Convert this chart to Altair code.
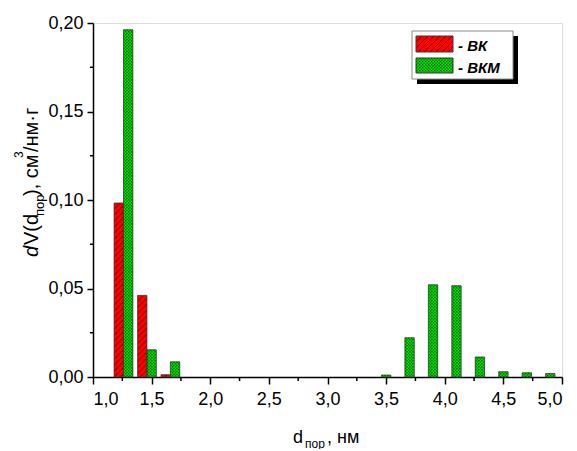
import base64
import altair as alt
import pandas as pd

# ---- data ----
series = ["ВК", "ВКМ"]
d_bk = [1.26, 1.46, 1.66]
v_bk = [0.0983, 0.0461, 0.0013]
d_bkm = [1.26, 1.46, 1.66, 3.46, 3.66, 3.86, 4.06, 4.26, 4.46, 4.66, 4.86]
v_bkm = [0.1962, 0.0154, 0.0086, 0.0011, 0.0222, 0.0521, 0.0516, 0.0113, 0.0030, 0.0024, 0.0020]
x_major = [1.0, 1.5, 2.0, 2.5, 3.0, 3.5, 4.0, 4.5, 5.0]
x_minor = [1.25, 1.75, 2.25, 2.75, 3.25, 3.75, 4.25, 4.75]
y_major = [0.0, 0.05, 0.10, 0.15, 0.20]
y_minor = [0.025, 0.075, 0.125, 0.175]
colors = ["#f01010", "#10c810"]

W, H = 469, 354
BARW = 0.08
FONT = "Liberation Sans"

# pattern textures (hatch for ВК, checker for ВКМ), tiled at pixel scale
HATCH_SVG = (
    '<svg xmlns="http://www.w3.org/2000/svg" width="100%" height="100%">'
    '<defs><pattern id="p" width="6" height="6" patternUnits="userSpaceOnUse">'
    '<rect width="6" height="6" fill="#ff0000"/>'
    '<path d="M0,6 L6,0 M-1,1 L1,-1 M5,7 L7,5" stroke="#700000" stroke-width="0.9"/>'
    '</pattern></defs><rect width="100%" height="100%" fill="url(#p)"/></svg>'
)
CHECK_SVG = (
    '<svg xmlns="http://www.w3.org/2000/svg" width="100%" height="100%">'
    '<defs><pattern id="p" width="3" height="3" patternUnits="userSpaceOnUse">'
    '<rect width="3" height="3" fill="#00e400"/>'
    '<rect x="0" y="0" width="1.2" height="1.2" fill="#003000"/>'
    '<rect x="1.5" y="1.5" width="1.2" height="1.2" fill="#004a00"/>'
    '</pattern></defs><rect width="100%" height="100%" fill="url(#p)"/></svg>'
)


def data_url(svg):
    return "data:image/svg+xml;base64," + base64.b64encode(svg.encode("utf-8")).decode("ascii")


textures = [data_url(HATCH_SVG), data_url(CHECK_SVG)]

df = pd.DataFrame({
    "s": [series[0]] * len(d_bk) + [series[1]] * len(d_bkm),
    "d": d_bk + d_bkm,
    "v": v_bk + v_bkm,
})

xs = alt.Scale(domain=[1, 5], nice=False, zero=False)
ys = alt.Scale(domain=[0, 0.2], nice=False)

xaxis = alt.Axis(
    values=x_major, title=None, grid=False, tickSize=7, tickWidth=1.5,
    domainWidth=1.5, domainColor="black", tickColor="black",
    labelFontSize=18, labelFont=FONT, labelColor="black", labelPadding=6,
    labelExpr="replace(format(datum.value, '.1f'), '.', ',')")
yaxis = alt.Axis(
    values=y_major, title=None, grid=False, tickSize=6, tickWidth=1.5,
    domainWidth=1.5, domainColor="black", tickColor="black",
    labelFontSize=18, labelFont=FONT, labelColor="black", labelPadding=4,
    labelExpr="replace(format(datum.value, '.2f'), '.', ',')")

base = alt.Chart(df).transform_calculate(
    x0=f"datum.s == '{series[0]}' ? datum.d - {BARW} : datum.d",
    x1=f"datum.s == '{series[0]}' ? datum.d : datum.d + {BARW}",
    zero="0",
    tex=f"datum.s == '{series[0]}' ? '{textures[0]}' : '{textures[1]}'",
)
pos = dict(
    x=alt.X("x0:Q", scale=xs, axis=xaxis),
    x2="x1:Q",
    y=alt.Y("v:Q", scale=ys, axis=yaxis),
    y2="zero:Q",
)

bars = base.mark_rect().encode(
    fill=alt.Fill("s:N", scale=alt.Scale(domain=series, range=colors), legend=None), **pos)
bar_tex = base.mark_image(aspect=False).encode(url="tex:N", **pos)
bar_edge = base.mark_rect(fill="transparent", stroke="#3a3a3a", strokeWidth=0.8).encode(**pos)

xminor = alt.Chart(pd.DataFrame({"m": x_minor})).mark_rule(color="black", strokeWidth=1.5).encode(
    x=alt.X("m:Q", scale=xs, axis=xaxis), y=alt.value(H), y2=alt.value(H + 4))
yminor = alt.Chart(pd.DataFrame({"m": y_minor})).mark_rule(color="black", strokeWidth=1.5).encode(
    y=alt.Y("m:Q", scale=ys, axis=yaxis), x=alt.value(0), x2=alt.value(-3))

one = pd.DataFrame({"k": [0]})


def txt(s, x, y, size, angle=0, style="normal", weight="normal"):
    return alt.Chart(one).mark_text(
        text=s, fontSize=size, angle=angle, align="left", baseline="alphabetic",
        font=FONT, fontStyle=style, fontWeight=weight, color="black",
    ).encode(x=alt.value(x), y=alt.value(y))


def rect(x1, y1, x2, y2, fill, stroke=None):
    kw = {"fill": fill}
    if stroke:
        kw.update(stroke=stroke, strokeWidth=1)
    return alt.Chart(one).mark_rect(**kw).encode(
        x=alt.value(x1), x2=alt.value(x2), y=alt.value(y1), y2=alt.value(y2))


def swatch(x1, y1, x2, y2, url):
    return alt.Chart(one).mark_image(aspect=False).encode(
        url=alt.value(url), x=alt.value(x1), x2=alt.value(x2), y=alt.value(y1), y2=alt.value(y2))


# axis titles built from pieces (sub/superscripts)
xtitle = [
    txt("d", 200, 420, 18),
    txt("пор", 212, 424.5, 12),
    txt(", нм", 234, 420, 18),
]
ytitle = [
    txt("d", -55, 234, 20, angle=270, style="italic"),
    txt("V(d", -55, 222, 20, angle=270),
    txt("пор", -49, 193, 13, angle=270),
    txt("), см", -55, 173, 20, angle=270),
    txt("3", -70, 135, 12, angle=270),
    txt("/нм·г", -55, 129, 20, angle=270),
]

# legend with drop shadow
legend = [
    rect(324, 13, 425, 61, "black"),
    rect(319, 8, 420, 56, "white", "#8a8a8a"),
    rect(323, 13, 360, 29, colors[0]),
    swatch(323, 13, 360, 29, textures[0]),
    rect(323, 13, 360, 29, "transparent", "#3a3a3a"),
    rect(323, 35, 360, 50, colors[1]),
    swatch(323, 35, 360, 50, textures[1]),
    rect(323, 35, 360, 50, "transparent", "#3a3a3a"),
    txt("- " + series[0], 365, 27.5, 15, style="italic", weight="bold"),
    txt("- " + series[1], 365, 49.5, 15, style="italic", weight="bold"),
]

chart = alt.layer(bars, bar_tex, bar_edge, xminor, yminor, *xtitle, *ytitle, *legend).properties(
    width=W, height=H,
    autosize=alt.AutoSizeParams(type="none"),
    padding={"left": 85, "top": 15, "right": 5, "bottom": 72},
).configure_view(stroke="#8a8a8a", strokeWidth=1).configure(background="white")

chart.save("out.html", embed_options={"renderer": "svg", "actions": False})
